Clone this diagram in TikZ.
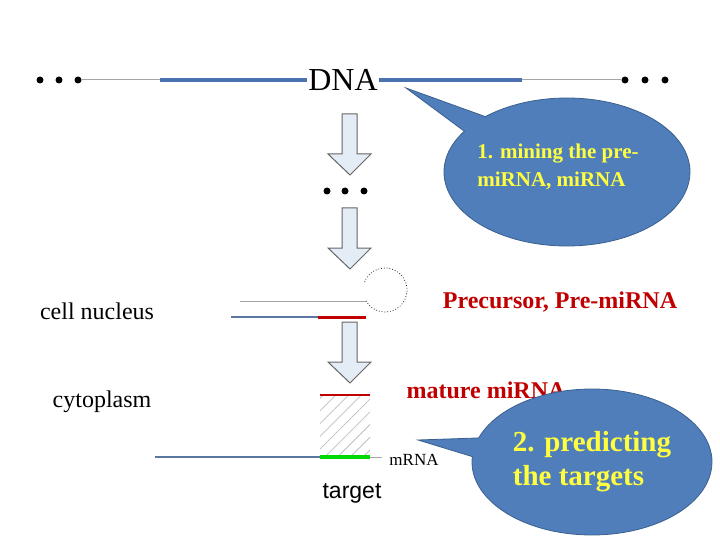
\documentclass[tikz,border=0pt]{standalone}
\usepackage{fontspec}
\setmainfont{Liberation Serif}
\newfontfamily\sansf{Liberation Sans}
\usepackage{tikz}
\usetikzlibrary{shapes.callouts,patterns.meta,positioning}
\definecolor{bubble}{HTML}{4F7EBB}
\definecolor{bubbleline}{HTML}{3A5F8F}
\definecolor{strand}{HTML}{4A72B0}
\definecolor{arrowfill}{HTML}{E4ECF6}
\definecolor{mirna}{HTML}{C00000}
\definecolor{txtyellow}{HTML}{FFFF40}
\tikzset{
  bubble/.style={ellipse callout,draw=bubbleline,thick,fill=bubble,text=txtyellow,font=\bfseries,align=left},
  dot/.style={circle,fill=black,inner sep=0pt,minimum size=7pt},
  thin strand/.style={draw=gray!70,line width=1pt},
  label/.style={font=\fontsize{24}{26}\selectfont}
}
\begin{document}
\begin{tikzpicture}[x=1pt,y=-1pt]
		\useasboundingbox (0,0) rectangle (720,540);
		% DNA strand
		\node[dot] (l1) at (40,80){};
		\node[dot] (l2) at (59,80){};
		\node[dot] (l3) at (78,80){};
		\node[dot] (r1) at (625,80){};
		\node[dot] (r2) at (645,80){};
		\node[dot] (r3) at (665,80){};
		\node[font=\fontsize{32}{34}\selectfont,inner sep=1pt] (dna) at (343,80) {DNA};
		\coordinate (a1) at (160,80);
		\coordinate (a2) at (522,80);
		\draw[thin strand] (l3) -- (a1);
		\draw[strand,line width=3.5pt] (a1) -- (dna.west);
		\draw[strand,line width=3.5pt] (dna.east) -- (a2);
		\draw[thin strand] (a2) -- (r1);
		% block arrows
		\foreach \t in {114,208,322}{
			\draw[gray!80!black,fill=arrowfill,line width=1pt]
			(342,\t) -- (342,\t+40) -- (328,\t+40) -- (350,\t+61) -- (371,\t+40) -- (357,\t+40) -- (357,\t) -- cycle;
		}
		\node[dot] (m1) at (327,191){};
		\node[dot] (m2) at (345,191){};
		\node[dot] (m3) at (364,191){};
		% precursor hairpin
		\coordinate (h1) at (240,301);
		\coordinate (h2) at (366,301);
		\coordinate (h3) at (231,317);
		\coordinate (h4) at (318,317);
		\coordinate (h5) at (366,317);
		\draw[thin strand] (h1) -- (h2);
		\draw[strand!70!gray,line width=1.2pt] (h3) -- (h4);
		\draw[mirna,line width=3pt] (h4) -- (h5);
		\draw[dotted,gray!30!black,line width=0.8pt] (h2) arc[start angle=150,end angle=-160,radius=22];
		% mature miRNA and target
		\coordinate (t1) at (320,395);
		\coordinate (t2) at (370,395);
		\coordinate (t3) at (320,457);
		\coordinate (t4) at (370,457);
		\fill[pattern={Lines[angle=45,distance=9pt,line width=0.8pt]},pattern color=gray!50] (t1) rectangle (t4);
		\draw[mirna,line width=2.5pt] (t1) -- (t2);
		\draw[strand!70!gray,line width=1.2pt] (155,457) -- (t3);
		\draw[green!85!black,line width=4pt] (t3) -- (t4);
		\draw[gray!70,line width=1pt] (t4) -- (382,457);
		\node[font=\fontsize{17}{19}\selectfont] (mrna) at (414,460) {mRNA};
		\node[font=\sansf\fontsize{23}{25}\selectfont] (target) at (352,493) {target};
		% labels
		\node[label] (nucleus) at (97,311) {cell nucleus};
		\node[label] (cyto) at (102,402) {cytoplasm};
		\node[label,text=mirna,font=\bfseries\fontsize{24}{26}\selectfont] (pre) at (560,302) {Precursor, Pre-miRNA};
		% callouts
		\node[bubble,minimum width=246,minimum height=148,
			callout absolute pointer={(406,88)}] (mine) at (567,172) {};
		\node[font=\bfseries\fontsize{21}{28}\selectfont,text=txtyellow,align=left] (minetxt) at (558,167) {1. mining the pre-\\miRNA, miRNA};
		\node[label,text=mirna,font=\bfseries\fontsize{24}{26}\selectfont] (mature) at (486,390) {mature miRNA};
		\node[bubble,minimum width=240,minimum height=146,font=\bfseries\fontsize{29}{34}\selectfont,
			callout absolute pointer={(418,440)}] (predict) at (592,462) {2. predicting\\the targets};
\end{tikzpicture}
\end{document}
